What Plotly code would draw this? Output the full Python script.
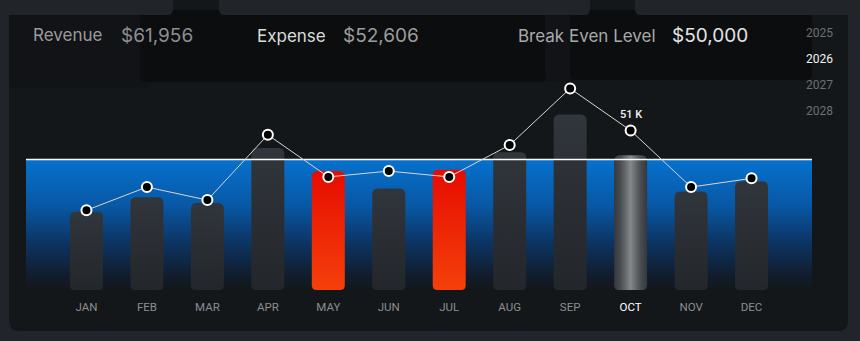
import numpy as np
import plotly.graph_objects as go

# ---- data -------------------------------------------------------------
months = ["JAN", "FEB", "MAR", "APR", "MAY", "JUN", "JUL", "AUG", "SEP", "OCT", "NOV", "DEC"]
bar_values = [48200, 48700, 48500, 50400, 49600, 49000, 49650, 50250, 51550, 50150, 48900, 49250]
line_values = [48250, 49050, 48600, 50850, 49400, 49600, 49400, 50500, 52450, 51000, 49050, 49350]
break_even = 50000
revenue_total = 61956
expense_total = 52606
years = ["2025", "2026", "2027", "2028"]
selected_year = "2026"
selected_month = "OCT"
alert_months = ["MAY", "JUL"]

# ---- geometry / style ---------------------------------------------------
W, H = 860, 341
PLOT_L, PLOT_R, PLOT_T, PLOT_B = 26, 812, 58, 290
X_RANGE = [-1, 12]
Y_RANGE = [45500, 53500]
PX_PER_X = (PLOT_R - PLOT_L) / (X_RANGE[1] - X_RANGE[0])
PX_PER_Y = (PLOT_B - PLOT_T) / (Y_RANGE[1] - Y_RANGE[0])

PAGE_BG = "#21242a"
CARD_BG = "#14171a"
BAR_W = 33          # px
BAR_R_TOP = 5       # px
BAR_R_BOT = 4       # px


def px(x):
    return (x - PLOT_L) / (PLOT_R - PLOT_L)


def py(y):
    return (PLOT_B - y) / (PLOT_B - PLOT_T)


def rrect_path(x0, y0, x1, y1, rt, rb):
    """Rounded rectangle in pixel coords -> SVG path in paper coords."""
    P = lambda x, y: f"{px(x):.5f},{py(y):.5f}"
    return (
        f"M{P(x0 + rt, y0)} L{P(x1 - rt, y0)} Q{P(x1, y0)} {P(x1, y0 + rt)} "
        f"L{P(x1, y1 - rb)} Q{P(x1, y1)} {P(x1 - rb, y1)} "
        f"L{P(x0 + rb, y1)} Q{P(x0, y1)} {P(x0, y1 - rb)} "
        f"L{P(x0, y0 + rt)} Q{P(x0, y0)} {P(x0 + rt, y0)} Z"
    )


def bar_outline(xc, top, bottom, n=8):
    """Outline of a rounded bar in data coordinates."""
    hw = BAR_W / 2 / PX_PER_X
    rtx, rty = BAR_R_TOP / PX_PER_X, BAR_R_TOP / PX_PER_Y
    rbx, rby = BAR_R_BOT / PX_PER_X, BAR_R_BOT / PX_PER_Y
    xs, ys = [], []
    corners = [
        (xc + hw - rtx, top - rty, rtx, rty, 0, 90),
        (xc - hw + rtx, top - rty, rtx, rty, 90, 180),
        (xc - hw + rbx, bottom + rby, rbx, rby, 180, 270),
        (xc + hw - rbx, bottom + rby, rbx, rby, 270, 360),
    ]
    for cx, cy, rx, ry, a0, a1 in corners:
        t = np.radians(np.linspace(a0, a1, n))
        xs.extend(cx + rx * np.cos(t))
        ys.extend(cy + ry * np.sin(t))
    xs.append(xs[0])
    ys.append(ys[0])
    return xs, ys


fig = go.Figure()

# blue band below the break-even level
fig.add_trace(go.Scatter(
    x=[X_RANGE[0], X_RANGE[1], X_RANGE[1], X_RANGE[0], X_RANGE[0]],
    y=[Y_RANGE[0], Y_RANGE[0], break_even, break_even, Y_RANGE[0]],
    mode="lines", line=dict(width=0), fill="toself",
    fillgradient=dict(type="vertical", colorscale=[
        [0.0, "#13171b"], [0.1, "#111c2a"], [0.35, "#0c3360"],
        [0.65, "#0858a6"], [1.0, "#0671cd"]]),
    hoverinfo="skip", showlegend=False,
))

# monthly bars
for i, (m, v) in enumerate(zip(months, bar_values)):
    xs, ys = bar_outline(i, v, Y_RANGE[0])
    if m == selected_month:
        grad = dict(type="horizontal", colorscale=[
            [0.0, "#34373b"], [0.2, "#4a4d51"], [0.5, "#85888b"],
            [0.8, "#4a4d51"], [1.0, "#34373b"]])
    elif m in alert_months:
        grad = dict(type="vertical", colorscale=[[0.0, "#f5400a"], [1.0, "#e60c00"]])
    else:
        grad = dict(type="vertical", colorscale=[[0.0, "#23262b"], [1.0, "#31363c"]])
    fig.add_trace(go.Scatter(
        x=xs, y=ys, mode="lines", line=dict(width=0), fill="toself",
        fillgradient=grad, hoverinfo="skip", showlegend=False,
    ))

# break-even line
fig.add_trace(go.Scatter(
    x=X_RANGE, y=[break_even, break_even], mode="lines",
    line=dict(color="#ffffff", width=1.5), hoverinfo="skip", showlegend=False,
))

# monthly line with markers
fig.add_trace(go.Scatter(
    x=list(range(len(months))), y=line_values, mode="lines+markers",
    line=dict(color="#d6d6d6", width=1),
    marker=dict(size=10, color="#000000", line=dict(color="#ffffff", width=2)),
    showlegend=False,
))

sel = months.index(selected_month)
fig.add_annotation(
    x=sel, y=line_values[sel], text=f"{line_values[sel] / 1000:.0f} K",
    showarrow=False, yanchor="middle", yshift=16,
    font=dict(family="Roboto", size=11, color="#f2f2f2", weight=500),
)

# ---- background panels -------------------------------------------------
shapes = [
    # card
    dict(type="path", path=rrect_path(9, -20, 848, 331, 10, 10),
         fillcolor=CARD_BG, line=dict(width=0)),
    # header panels
    dict(type="path", path=rrect_path(9, 10, 150, 88, 6, 6),
         fillcolor="#111316", line=dict(width=0)),
    dict(type="path", path=rrect_path(140, 10, 547, 82, 6, 6),
         fillcolor="#0b0d0f", line=dict(width=0)),
    dict(type="path", path=rrect_path(545, 10, 575, 82, 6, 6),
         fillcolor="#111316", line=dict(width=0)),
    dict(type="path", path=rrect_path(570, 10, 812, 80, 6, 6),
         fillcolor="#0b0d0f", line=dict(width=0)),
    # top tabs
    dict(type="path", path=rrect_path(-10, -10, 173, 15, 6, 6),
         fillcolor="#212429", line=dict(width=0)),
    dict(type="path", path=rrect_path(219, -10, 590, 15, 6, 6),
         fillcolor="#212429", line=dict(width=0)),
    dict(type="path", path=rrect_path(635, -10, 880, 15, 6, 6),
         fillcolor="#212429", line=dict(width=0)),
]
for s in shapes:
    s.update(xref="paper", yref="paper", layer="below")

# ---- header texts -------------------------------------------------------
HEAD_FONT = "Inter"
header = [
    ("Revenue", 31, 35, 17, "#9b9b9b"),
    (f"${revenue_total:,}", 119, 36, 19, "#8f8f8f"),
    ("Expense", 255, 36, 17, "#dcdcdc"),
    (f"${expense_total:,}", 341, 36, 19, "#9d9d9d"),
    ("Break Even Level", 516, 36, 17, "#a9a9a9"),
    (f"${break_even:,}", 670, 36, 19, "#e4e4e4"),
]
for text, x, y, size, color in header:
    fig.add_annotation(x=px(x), y=py(y), xref="paper", yref="paper", text=text,
                       showarrow=False, xanchor="left", yanchor="middle",
                       font=dict(family=HEAD_FONT, size=size, color=color))

for k, yr in enumerate(years):
    fig.add_annotation(x=px(804), y=py(33 + 26 * k), xref="paper", yref="paper",
                       text=yr, showarrow=False, xanchor="left", yanchor="middle",
                       font=dict(family="Roboto", size=12,
                                 color="#f2f2f2" if yr == selected_year else "#6f6f6f"))

ticktext = [f'<span style="color:#ffffff">{m}</span>' if m == selected_month else m
            for m in months]

fig.update_layout(
    width=W, height=H,
    margin=dict(l=PLOT_L, r=W - PLOT_R, t=PLOT_T, b=H - PLOT_B),
    paper_bgcolor=PAGE_BG, plot_bgcolor="rgba(0,0,0,0)",
    shapes=shapes,
    xaxis=dict(range=X_RANGE, tickvals=list(range(len(months))), ticktext=ticktext,
               showgrid=False, zeroline=False, showline=False, ticks="",
               tickfont=dict(family="Roboto", size=11.5, color="#8a8d91"),
               ticklabelstandoff=8, fixedrange=True),
    yaxis=dict(range=Y_RANGE, visible=False, fixedrange=True),
    hovermode=False,
)

fig.write_html("out.html", config={"displayModeBar": False})
